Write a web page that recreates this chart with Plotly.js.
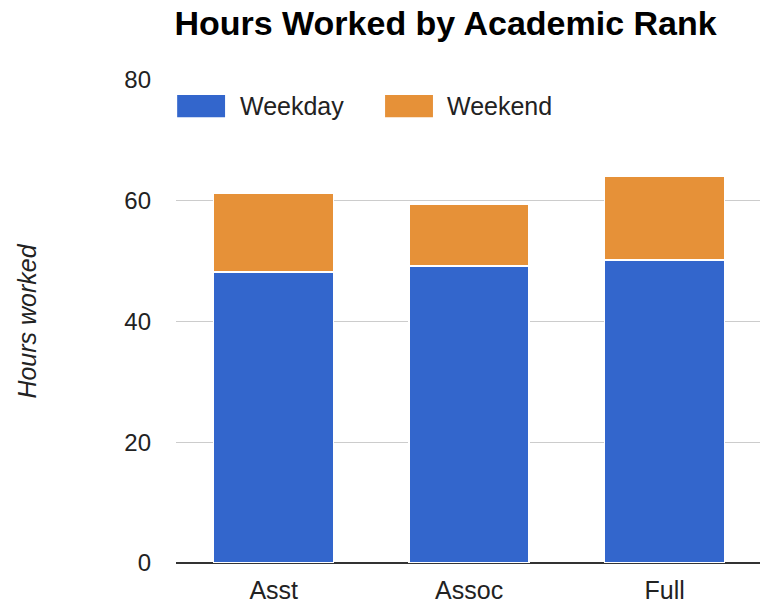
<!DOCTYPE html>
<html>
<head>
<meta charset="utf-8">
<script src="https://cdn.plot.ly/plotly-3.0.1.min.js"></script>
<style>html,body{margin:0;padding:0;background:#fff;}#chart{width:760px;height:603px;}</style>
</head>
<body>
<div id="chart"></div>
<script>
const categories = ['Asst', 'Assoc', 'Full'];
const seriesNames = ['Weekday', 'Weekend'];
const weekday = [48.2, 49.2, 50.2];
const weekend = [13.0, 10.2, 13.9];
const yTicks = [0, 20, 40, 60, 80];
const colors = ['#3366cc', '#e69138'];

const FONT = '"Liberation Sans", Arial, Helvetica, sans-serif';

const traces = [
  {type: 'bar', name: seriesNames[0], x: categories, y: weekday,
   marker: {color: colors[0], line: {color: '#ffffff', width: 1.5}}, hoverinfo: 'none'},
  {type: 'bar', name: seriesNames[1], x: categories, y: weekend,
   marker: {color: colors[1], line: {color: '#ffffff', width: 1.5}}, hoverinfo: 'none'}
];

const legendShapes = [];
const legendTexts = [];
const swX = [[0.002, 0.084], [0.358, 0.44]];
const txX = [0.106, 0.461];
for (let i = 0; i < seriesNames.length; i++) {
  legendShapes.push({type: 'rect', xref: 'paper', yref: 'paper',
    x0: swX[i][0], x1: swX[i][1], y0: 0.923, y1: 0.969,
    fillcolor: colors[i], line: {width: 0}});
  legendTexts.push({xref: 'paper', yref: 'paper', x: txX[i], y: 0.946,
    xanchor: 'left', yanchor: 'middle', showarrow: false, text: seriesNames[i],
    font: {family: FONT, size: 25, color: '#222222'}});
}

const layout = {
  width: 760, height: 603,
  margin: {l: 176, r: 0, t: 80, b: 40, pad: 0},
  paper_bgcolor: '#ffffff', plot_bgcolor: '#ffffff',
  barmode: 'stack', bargap: 0.386,
  showlegend: false,
  font: {family: FONT, color: '#222222'},
  title: {text: '<b>Hours Worked by Academic Rank</b>', x: 0.2295, xanchor: 'left',
          y: 0.962, yanchor: 'middle', font: {family: FONT, size: 34, color: '#000000'}},
  xaxis: {type: 'category', range: [-0.5, 2.488], showgrid: false, zeroline: false,
          showline: false, ticks: '', ticklabelstandoff: 10,
          tickfont: {family: FONT, size: 25, color: '#222222'}, fixedrange: true},
  yaxis: {range: [0, 80], tickvals: yTicks, ticktext: yTicks.map(String),
          showgrid: true, gridcolor: '#cccccc', gridwidth: 1,
          zeroline: true, zerolinecolor: '#333333', zerolinewidth: 1.5,
          showline: false, ticks: '', ticklabelstandoff: 24,
          tickfont: {family: FONT, size: 24, color: '#222222'},
          title: {text: '<i>Hours worked</i>', standoff: 80,
                  font: {family: FONT, size: 25, color: '#222222'}},
          fixedrange: true},
  shapes: legendShapes,
  annotations: legendTexts
};

Plotly.newPlot('chart', traces, layout, {displayModeBar: false, staticPlot: true});
</script>
</body>
</html>
